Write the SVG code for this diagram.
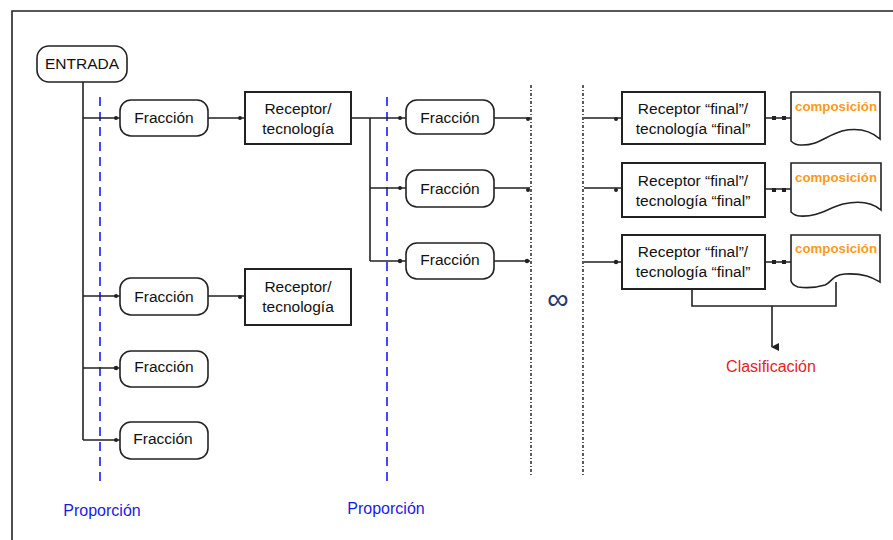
<svg xmlns="http://www.w3.org/2000/svg" width="893" height="540" viewBox="0 0 893 540">
<style>
text{font-family:"Liberation Sans",Arial,sans-serif;}
.box{fill:#fff;stroke:#222;stroke-width:2;}
.term{fill:#fff;stroke:#222;stroke-width:1.6;}
.lbl{font-size:15.5px;fill:#111;text-anchor:middle;}
.ln{fill:none;stroke:#222;stroke-width:1.6;}
.dot{fill:#222;}
.blue{fill:none;stroke:#1a1aff;stroke-width:1.6;stroke-dasharray:9,6;}
.dotted{fill:none;stroke:#333;stroke-width:1.6;stroke-dasharray:3,2,1,2;}
.prop{font-size:16px;fill:#1a1ae6;text-anchor:middle;}
.comp{font-size:13.3px;font-weight:bold;fill:#ff9a1a;}
</style>
<defs>
<marker id="arr" markerWidth="8" markerHeight="8" refX="4" refY="7" orient="auto" markerUnits="userSpaceOnUse">
<path d="M0,0 L8,0 L4,8 Z" fill="#222"/>
</marker>
</defs>
<rect width="893" height="540" fill="#fff"/>
<path d="M12,540 V11 H893" class="ln" stroke-width="2"/>

<g id="guides">
<line x1="100" y1="97" x2="100" y2="487" class="blue"/>
<line x1="387" y1="97" x2="387" y2="487" class="blue"/>
<line x1="531" y1="85" x2="531" y2="475" class="dotted"/>
<line x1="583" y1="85" x2="583" y2="475" class="dotted"/>
</g>

<g id="connectors">
<path d="M83,82 V440" class="ln"/>
<path d="M83,118 H120 M83,296 H120 M83,368 H120 M83,440 H120" class="ln"/>
<circle cx="116" cy="118" r="2" class="dot"/>
<circle cx="116" cy="296" r="2" class="dot"/>
<circle cx="116" cy="368" r="2.2" class="dot"/>
<circle cx="116" cy="440" r="2" class="dot"/>
<path d="M208,118 H244" class="ln"/><circle cx="240" cy="118" r="2" class="dot"/>
<path d="M208,296 H244" class="ln"/><circle cx="240" cy="297" r="2" class="dot"/>
<path d="M351,118 H406 M370,118 V261 M370,188 H406 M370,261 H406" class="ln"/>
<circle cx="400" cy="118" r="2" class="dot"/>
<circle cx="400" cy="188" r="2" class="dot"/>
<circle cx="400" cy="261" r="2.2" class="dot"/>
<path d="M494,118 H530 M494,188 H530 M494,261 H530" class="ln"/>
<circle cx="528" cy="119" r="2" class="dot"/>
<circle cx="528" cy="190" r="2" class="dot"/>
<circle cx="527" cy="261" r="2.2" class="dot"/>
<path d="M584,118 H622 M584,188 H622 M584,262 H622" class="ln"/>
<circle cx="616" cy="119" r="2" class="dot"/>
<circle cx="616" cy="190" r="2" class="dot"/>
<circle cx="616" cy="262" r="2.2" class="dot"/>
<path d="M765,118 H791 M765,189 H791 M765,262 H791" class="ln"/>
<rect x="772" y="116" width="4" height="4" class="dot"/><rect x="782" y="116" width="4" height="4" class="dot"/>
<rect x="772" y="188" width="4" height="4" class="dot"/><rect x="782" y="188" width="4" height="4" class="dot"/>
<rect x="772" y="260" width="4" height="4" class="dot"/><rect x="782" y="260" width="4" height="4" class="dot"/>
<path d="M692,289 V306 H836 V282" class="ln"/>
<path d="M772,306 V347" class="ln" marker-end="url(#arr)"/>
</g>

<g id="entrada">
<rect x="37" y="46" width="90" height="36" rx="12" class="term"/>
<text x="82" y="69" class="lbl" font-size="11.5">ENTRADA</text>
</g>

<g id="fraccion1"><rect x="120" y="100" width="88" height="36" rx="11" class="term"/><text x="164" y="123" class="lbl">Fracción</text></g>
<g id="fraccion2"><rect x="120" y="278" width="88" height="37" rx="11" class="term"/><text x="164" y="302" class="lbl">Fracción</text></g>
<g id="fraccion3"><rect x="120" y="351" width="88" height="36" rx="11" class="term"/><text x="164" y="372" class="lbl">Fracción</text></g>
<g id="fraccion4"><rect x="120" y="422" width="88" height="37" rx="11" class="term"/><text x="163" y="444" class="lbl">Fracción</text></g>

<g id="receptor1"><rect x="245" y="92" width="106" height="52" class="box"/><text x="298" y="114" class="lbl">Receptor/</text><text x="298" y="134" class="lbl">tecnología</text></g>
<g id="receptor2"><rect x="245" y="269" width="106" height="56" class="box"/><text x="298" y="292" class="lbl">Receptor/</text><text x="298" y="312" class="lbl">tecnología</text></g>

<g id="fraccion5"><rect x="406" y="100" width="88" height="34" rx="11" class="term"/><text x="450" y="123" class="lbl">Fracción</text></g>
<g id="fraccion6"><rect x="406" y="170" width="88" height="37" rx="11" class="term"/><text x="450" y="194" class="lbl">Fracción</text></g>
<g id="fraccion7"><rect x="406" y="243" width="88" height="36" rx="11" class="term"/><text x="450" y="265" class="lbl">Fracción</text></g>

<g id="final1"><rect x="622" y="92" width="143" height="52" class="box"/><text x="693" y="114" class="lbl">Receptor “final”/</text><text x="693" y="134" class="lbl">tecnología “final”</text></g>
<g id="final2"><rect x="622" y="163" width="143" height="54" class="box"/><text x="693" y="186" class="lbl">Receptor “final”/</text><text x="693" y="206" class="lbl">tecnología “final”</text></g>
<g id="final3"><rect x="622" y="235" width="143" height="54" class="box"/><text x="693" y="257" class="lbl">Receptor “final”/</text><text x="693" y="277" class="lbl">tecnología “final”</text></g>

<g id="doc1"><path d="M791,92 H880 V139 C872,132 860,127 842,131 C825,136 818,146 800,145 C795,145 792,142 791,141 Z" class="term"/><text x="795" y="111" class="comp">composición</text></g>
<g id="doc2"><path d="M791,163 H881 V210 C873,203 861,200 843,204 C826,209 818,217 800,216 C795,216 792,213 791,212 Z" class="term"/><text x="795" y="182" class="comp">composición</text></g>
<g id="doc3"><path d="M791,235 H880 V282 C873,278 865,273 845,274 C832,275 832,282 825,285 C815,288 805,288 798,287 C795,286 792,284 791,281 Z" class="term"/><text x="795" y="253" class="comp">composición</text></g>

<text x="558" y="309" font-size="30" fill="#2a3a6a" text-anchor="middle" font-family="DejaVu Sans,sans-serif">∞</text>
<text x="771" y="372" font-size="16" fill="#e61e1e" text-anchor="middle">Clasificación</text>
<text x="102" y="516" class="prop">Proporción</text>
<text x="386" y="514" class="prop">Proporción</text>
</svg>
